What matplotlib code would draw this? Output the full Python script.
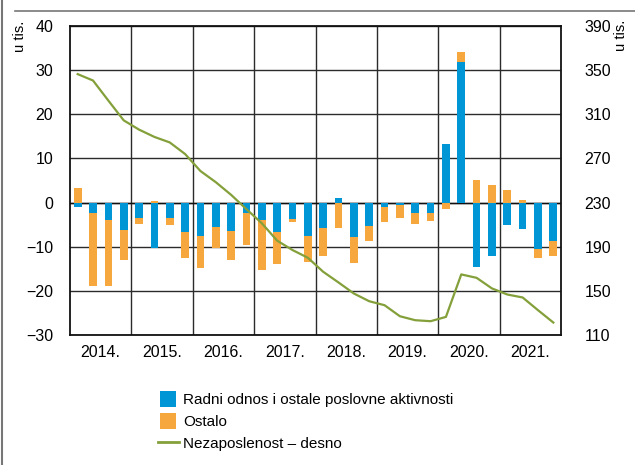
import matplotlib
matplotlib.use("Agg")
import matplotlib.pyplot as plt
from matplotlib.lines import Line2D
from matplotlib.patches import Patch, Rectangle
from matplotlib.legend_handler import HandlerPatch
import numpy as np
from matplotlib import font_manager

names = {f.name for f in font_manager.fontManager.ttflist}
fam = ['Liberation Sans Narrow', 'Liberation Sans', 'DejaVu Sans']
fam = [f for f in fam if f in names] or ['DejaVu Sans']
plt.rcParams['font.family'] = fam

years = ['2014.', '2015.', '2016.', '2017.', '2018.', '2019.', '2020.', '2021.']

radni = [-1.0, -2.4, -4.0, -6.3,
         -3.4, -10.2, -3.6, -6.7,
         -7.5, -5.6, -6.4, -2.4,
         -4.0, -6.6, -3.7, -7.5,
         -5.7, 1.1, -7.7, -5.2,
         -1.1, -0.5, -2.3, -2.3,
         13.3, 31.8, -14.6, -12.1,
         -5.1, -5.9, -10.6, -8.6]

ostalo = [3.4, -16.6, -15.0, -6.7,
          -1.5, 0.4, -1.5, -5.8,
          -7.3, -4.8, -6.7, -7.2,
          -11.3, -7.3, -0.8, -5.9,
          -6.5, -5.8, -6.1, -3.5,
          -3.4, -3.1, -2.5, -1.9,
          -1.4, 2.3, 5.0, 3.9,
          2.8, 0.5, -2.0, -3.5]

nezaposlenost = [346.4, 340.6, 322.4, 304.5,
                 296.1, 289.5, 284.5, 274.0,
                 258.6, 248.5, 237.0, 224.0,
                 211.3, 195.5, 187.0, 180.0,
                 167.3, 157.6, 147.6, 140.6,
                 137.0, 127.0, 123.4, 122.5,
                 126.4, 164.9, 161.8, 152.2,
                 146.7, 144.0, 132.5, 121.3]

blue = '#0096D6'
orange = '#F6A83F'
green = '#84A03A'
gridc = '#2b2b2b'

fig = plt.figure(figsize=(6.35, 4.65), dpi=100)
ax = fig.add_axes([70/635, 1-335/465, (561-70)/635, (335-26)/465])

x = np.arange(len(radni))
r = np.array(radni)
o = np.array(ostalo)
bottom_o = np.where(np.sign(o) == np.sign(r), r, 0)
ax.bar(x, r, width=0.5, color=blue, zorder=3, linewidth=0)
ax.bar(x, o, width=0.5, bottom=bottom_o, color=orange, zorder=3, linewidth=0)

ax.set_xlim(-0.5, len(radni) - 0.5)
ax.set_ylim(-30, 40)
ax.set_yticks(range(-30, 41, 10))
ax.set_yticklabels([('\u2212' + str(-v)) if v < 0 else str(v) for v in range(-30, 41, 10)])

bounds = np.arange(3.5, len(radni) - 1, 4)
ax.set_xticks(bounds)
ax.set_xticklabels([''] * len(bounds))
ax.set_xticks(np.arange(1.5, len(radni), 4), minor=True)
ax.set_xticklabels(years, minor=True)
ax.tick_params(axis='x', which='both', length=0, pad=7, labelsize=11.5)
ax.tick_params(axis='y', length=0, pad=12, labelsize=11.5)
ax.grid(True, which='major', color=gridc, linewidth=1.0, zorder=1)
ax.set_axisbelow(True)
ax.axhline(0, color='#111111', linewidth=1.0, zorder=2)
for s in ax.spines.values():
    s.set_color('#111111')
    s.set_linewidth(1.3)

ax2 = ax.twinx()
ax2.plot(x, nezaposlenost, color=green, linewidth=1.6, zorder=4)
ax2.set_ylim(110, 390)
ax2.set_yticks(range(110, 391, 40))
ax2.tick_params(axis='y', length=0, pad=17, labelsize=11.5)
for s in ax2.spines.values():
    s.set_visible(False)

fig.text(20/635, 1-36/465, 'u tis.', rotation=90, ha='center', va='center', fontsize=10.5)
fig.text(621/635, 1-35/465, 'u tis.', rotation=90, ha='center', va='center', fontsize=10.5)

# frame lines
fig.add_artist(Line2D([15/635, 1], [1-11/465, 1-11/465], color='#777777', linewidth=1.2))
fig.add_artist(Line2D([1.5/635, 1.5/635], [0, 1], color='#777777', linewidth=1.5))


def square_patch(legend, orig_handle, xdescent, ydescent, width, height, fontsize):
    side = 16 * 72 / 100.0
    cx = -xdescent + width / 2.0
    cy = -ydescent + height / 2.0
    return Rectangle((cx - side / 2.0, cy - side / 2.0), side, side)


handles = [Patch(facecolor=blue, edgecolor='none'),
           Patch(facecolor=orange, edgecolor='none'),
           Line2D([0], [0], color=green, linewidth=2)]
labels = ['Radni odnos i ostale poslovne aktivnosti', 'Ostalo', 'Nezaposlenost \u2013 desno']
fig.legend(handles, labels, loc='upper left', bbox_to_anchor=(152/635, 1-386/465),
           frameon=False, fontsize=11, handlelength=1.35, handleheight=1.0,
           handletextpad=0.3, labelspacing=0.45, borderaxespad=0,
           handler_map={Patch: HandlerPatch(patch_func=square_patch)})

fig.savefig('out.png', dpi=100)
